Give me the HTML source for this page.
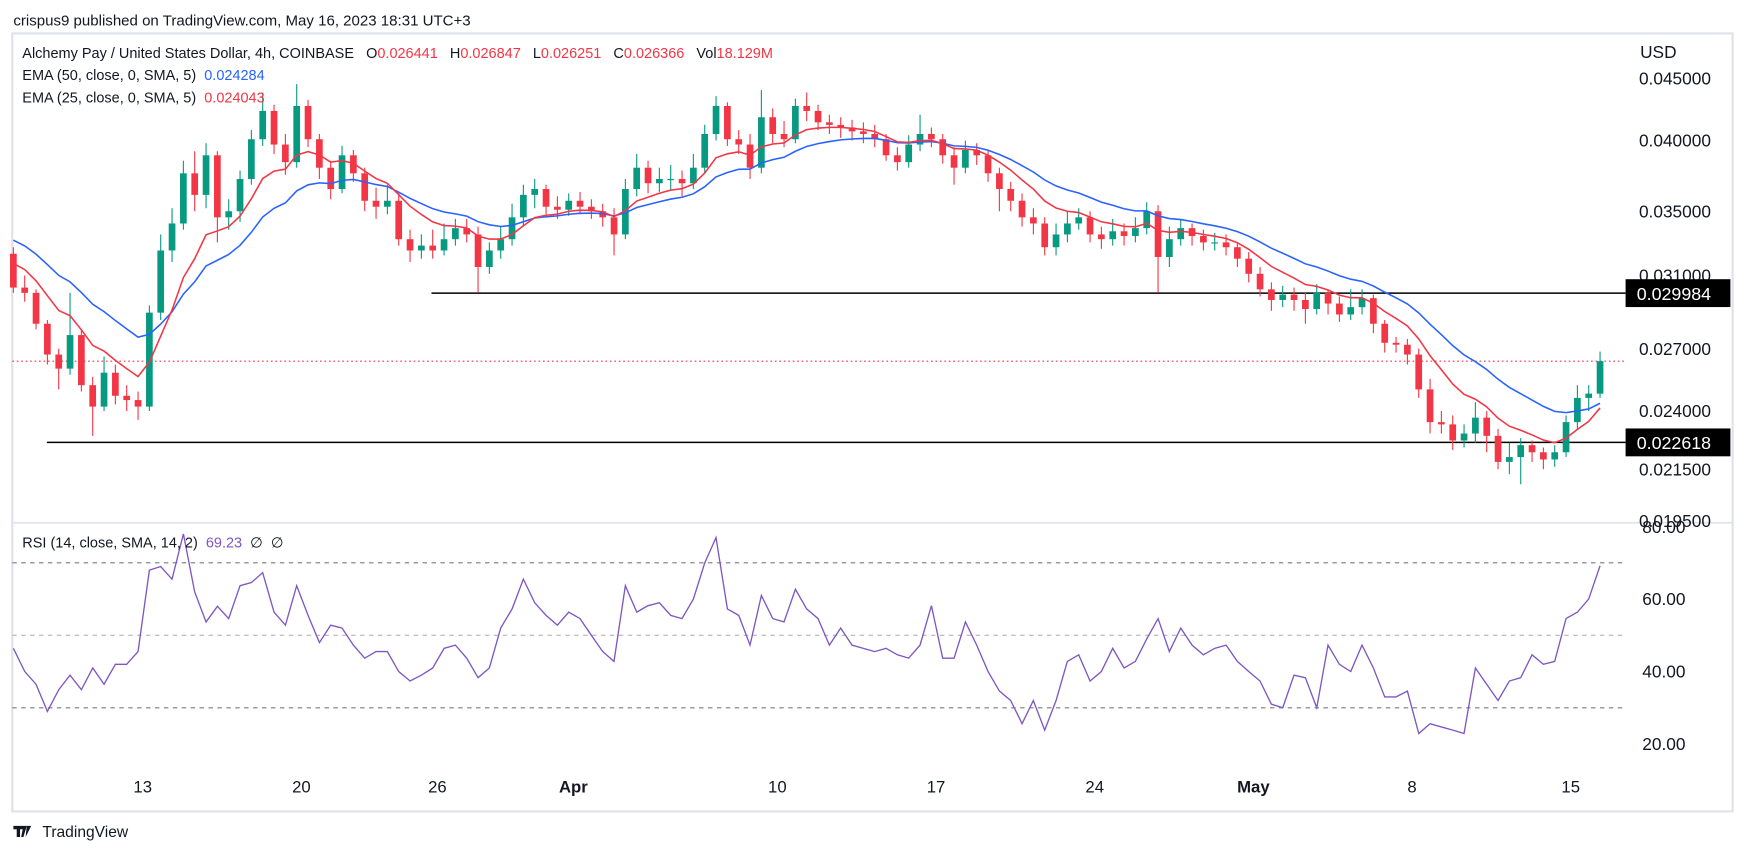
<!DOCTYPE html>
<html><head><meta charset="utf-8">
<style>
html,body{margin:0;padding:0;background:#fff;}
svg{display:block;}
text{font-family:"Liberation Sans",sans-serif;white-space:pre;}
</style></head>
<body>
<svg id="chart" width="1746" height="856" viewBox="0 0 1566 768" preserveAspectRatio="none" xmlns="http://www.w3.org/2000/svg">
  <rect x="0" y="0" width="1566" height="768" fill="#fff"/>
  <text x="12" y="23" font-size="13.5" fill="#131722">crispus9 published on TradingView.com, May 16, 2023 18:31 UTC+3</text>
  <rect x="11" y="30" width="1543" height="698" fill="none" stroke="#e0e3eb" stroke-width="2"/>
  <line x1="11" y1="469" x2="1554" y2="469" stroke="#e0e3eb" stroke-width="1.5"/>
  <g id="grid"></g>
  <g id="levels"></g>
  <g id="candles"></g>
  <g id="emas"></g>
  <g id="rsi"></g>
  <g id="axes"></g>
  <g font-size="13" fill="#131722">
    <text x="20" y="52" xml:space="preserve">Alchemy Pay / United States Dollar, 4h, COINBASE   O<tspan fill="#f23645">0.026441</tspan>   H<tspan fill="#f23645">0.026847</tspan>   L<tspan fill="#f23645">0.026251</tspan>   C<tspan fill="#f23645">0.026366</tspan>   Vol<tspan fill="#f23645">18.129M</tspan></text>
    <text x="20" y="72" xml:space="preserve">EMA (50, close, 0, SMA, 5)  <tspan fill="#2962ff">0.024284</tspan></text>
    <text x="20" y="92" xml:space="preserve">EMA (25, close, 0, SMA, 5)  <tspan fill="#f23645">0.024043</tspan></text>
    <text x="20" y="491" xml:space="preserve">RSI (14, close, SMA, 14, 2)  <tspan fill="#7e57c2">69.23</tspan>  ∅  ∅</text>
  </g>
  <text x="1471" y="52" font-size="15.5" fill="#131722">USD</text>
  <g>
    <path d="M12 741h9v3h-3v7h-3v-7h-3z M21 741h3l-3 10h-2z M24 741h4l-5 10z" fill="#131722"/>
    <text x="38" y="751" font-size="14" fill="#131722">TradingView</text>
  </g>
</svg>
<script>
const firstOpen = 0.0323;
const closes = [0.0303,0.0300,0.0283,0.0267,0.0260,0.0277,0.0252,0.0242,0.0258,0.0247,0.0245,0.0242,0.0289,0.0325,0.0342,0.0376,0.0361,0.0389,0.0346,0.0350,
0.0372,0.0401,0.0423,0.0397,0.0384,0.0427,0.0401,0.0380,0.0365,0.0389,0.0376,0.0357,0.0353,0.0357,0.0332,0.0325,0.0328,0.0325,0.0332,0.0339,
0.0335,0.0315,0.0325,0.0332,0.0346,0.0361,0.0365,0.0353,0.0351,0.0357,0.0353,0.0350,0.0346,0.0335,0.0365,0.0380,0.0369,0.0372,0.0372,0.0369,
0.0380,0.0405,0.0427,0.0401,0.0397,0.0380,0.0418,0.0405,0.0401,0.0427,0.0423,0.0414,0.0412,0.0410,0.0407,0.0405,0.0401,0.0389,0.0384,0.0397,
0.0405,0.0401,0.0389,0.0380,0.0393,0.0389,0.0376,0.0365,0.0357,0.0346,0.0342,0.0327,0.0335,0.0342,0.0346,0.0335,0.0332,0.0337,0.0334,0.0339,
0.0350,0.0321,0.0332,0.0339,0.0334,0.0330,0.0330,0.0327,0.0320,0.0311,0.0302,0.0296,0.0299,0.0296,0.0291,0.0300,0.0294,0.0288,0.0292,0.0297,
0.0283,0.0273,0.0272,0.0267,0.0250,0.0235,0.0234,0.0227,0.0230,0.0237,0.0229,0.0218,0.0220,0.0225,0.0222,0.0219,0.0222,0.0235,0.0246,0.0248,0.02637];
const highs = [0.0327,0.0310,0.0302,0.0285,0.0270,0.0300,0.0280,0.0256,0.0266,0.0262,0.0252,0.0249,0.0293,0.0335,0.0352,0.0385,0.0392,0.0398,0.0392,0.0358,
0.0378,0.0408,0.0438,0.0428,0.0405,0.0445,0.0432,0.0405,0.0385,0.0396,0.0393,0.0380,0.0366,0.0368,0.0362,0.0338,0.0335,0.0338,0.0342,0.0345,
0.0345,0.0340,0.0330,0.0340,0.0355,0.0368,0.0372,0.0368,0.0360,0.0362,0.0363,0.0358,0.0355,0.0352,0.0372,0.0390,0.0385,0.0380,0.0382,0.0378,
0.0390,0.0412,0.0435,0.0430,0.0408,0.0405,0.0440,0.0425,0.0415,0.0433,0.0438,0.0428,0.0420,0.0418,0.0416,0.0414,0.0412,0.0405,0.0395,0.0404,
0.0420,0.0410,0.0405,0.0395,0.0400,0.0398,0.0393,0.0380,0.0370,0.0362,0.0352,0.0346,0.0342,0.0350,0.0352,0.0350,0.0340,0.0345,0.0342,0.0346,
0.0356,0.0354,0.0340,0.0345,0.0342,0.0338,0.0336,0.0335,0.0330,0.0324,0.0315,0.0306,0.0304,0.0303,0.0300,0.0305,0.0302,0.0298,0.0302,0.0302,
0.0299,0.0285,0.0276,0.0275,0.0270,0.0255,0.0240,0.0238,0.0234,0.0244,0.0240,0.0232,0.0226,0.0228,0.0227,0.0224,0.0225,0.0238,0.0252,0.0252,0.02685];
const lows = [0.0300,0.0295,0.0280,0.0262,0.0250,0.0257,0.0249,0.0229,0.0240,0.0243,0.0240,0.0236,0.0240,0.0285,0.0318,0.0338,0.0350,0.0352,0.0330,0.0338,
0.0343,0.0368,0.0396,0.0390,0.0375,0.0380,0.0395,0.0372,0.0358,0.0362,0.0370,0.0350,0.0345,0.0348,0.0328,0.0318,0.0320,0.0320,0.0322,0.0328,
0.0330,0.0300,0.0311,0.0320,0.0328,0.0340,0.0352,0.0348,0.0345,0.0347,0.0348,0.0345,0.0340,0.0322,0.0332,0.0360,0.0362,0.0363,0.0364,0.0360,
0.0365,0.0376,0.0400,0.0396,0.0390,0.0372,0.0376,0.0398,0.0395,0.0398,0.0415,0.0408,0.0405,0.0402,0.0400,0.0398,0.0395,0.0385,0.0378,0.0380,
0.0392,0.0395,0.0383,0.0368,0.0376,0.0382,0.0370,0.0350,0.0350,0.0340,0.0335,0.0322,0.0322,0.0330,0.0338,0.0330,0.0326,0.0328,0.0328,0.0330,
0.0335,0.0300,0.0315,0.0328,0.0328,0.0325,0.0325,0.0322,0.0315,0.0306,0.0298,0.0290,0.0292,0.0290,0.0283,0.0288,0.0288,0.0284,0.0285,0.0288,
0.0278,0.0268,0.0268,0.0262,0.0246,0.0230,0.0230,0.0223,0.0224,0.0226,0.0222,0.0215,0.0213,0.0209,0.0218,0.0215,0.0216,0.0220,0.0232,0.0240,0.0246];
const rsiValues = [46.4,40,36.5,29,35,39,35,41,36.5,42,42,45.5,68,69,65.5,78,62,53.7,58,54.6,
63.7,64.6,67.3,56.4,52.8,63.7,55.5,48,52.8,52,47.3,43.7,45.5,45.5,40,37.4,39,41,46.4,47.3,
43.7,38.3,41,52,57.3,65.5,59,55.5,52.8,56.4,54.6,50,45.5,42.8,63.7,56.4,58.2,59,55.5,54.6,
60,70,77,57.3,55.5,47.3,61,54.6,53.7,62.7,57.3,54.6,47.3,52,47.3,46.4,45.5,46.4,44.6,43.7,
47.3,58.2,43.7,43.7,53.7,47.3,40,34.6,32,25.6,32,23.8,32,42.8,44.6,37.4,40,46.4,41,42.8,
49,54.6,45.5,52,47.3,44.6,46.4,47.3,42.8,40,37.4,31,30,39,38.3,30,47.3,42,40,47.3,
41,33,33,34.6,22.9,25.6,24.7,23.8,22.9,41,36.5,32,37.4,38.3,44.6,42,42.8,54.6,56.4,60,69.2];
const priceTicks = [0.045,0.040,0.035,0.031,0.027,0.024,0.0215,0.0195];
const rsiTicks = [80,60,40,20];
const rsiBands = [70,50,30];
const dateLabels = ["13","20","26","Apr","10","17","24","May","8","15"];
const dateDays = [0,7,13,19,28,35,42,49,56,63];
const resistanceLevel = 0.029984;
const supportLevel = 0.022618;
const lastPrice = 0.026366;
const ema50Seed = 0.0335, ema25Seed = 0.0321;

const NS = "http://www.w3.org/2000/svg";
const PLOT_L = 11, PLOT_R = 1458;
function yP(p){ return 263 + (Math.log(0.029984) - Math.log(p)) * 475; }
function yR(v){ return 472.5 + (80 - v) * 3.25; }
function xDay(d){ return 128 + d * 20.33; }
function xC(i){ return xDay(-5.706 + i * 0.5); }
function mk(tag, attrs, parent){ const e = document.createElementNS(NS, tag); for (const k in attrs) e.setAttribute(k, attrs[k]); parent.appendChild(e); return e; }

const gLevels = document.getElementById('levels');
const gC = document.getElementById('candles');
const gE = document.getElementById('emas');
const gR = document.getElementById('rsi');
const gA = document.getElementById('axes');

let el = mk('line', {x1:387, y1:yP(resistanceLevel), x2:PLOT_R, y2:yP(resistanceLevel), stroke:'#000', 'stroke-width':1.3}, gLevels);


el = mk('line', {x1:42, y1:yP(supportLevel), x2:PLOT_R, y2:yP(supportLevel), stroke:'#000', 'stroke-width':1.3}, gLevels);


el = mk('line', {x1:PLOT_L, y1:yP(lastPrice), x2:PLOT_R, y2:yP(lastPrice), stroke:'#f23645', 'stroke-width':1, 'stroke-dasharray':'1.5 2.5'}, gLevels);



for (let i = 0; i < closes.length; i++) {
  const o = i === 0 ? firstOpen : closes[i-1], c = closes[i];
  const up = c >= o, col = up ? '#089981' : '#f23645';
  const x = xC(i);
  const g = mk('g', {}, gC);
  
  
  mk('line', {x1:x, x2:x, y1:yP(highs[i]), y2:yP(lows[i]), stroke:col, 'stroke-width':1}, g);
  const yt = Math.min(yP(o), yP(c)), yb = Math.max(yP(o), yP(c));
  mk('rect', {x:x-3, y:yt, width:6, height:Math.max(1, yb-yt), fill:col}, g);
}

function emaPath(seed, alpha){
  let e = seed, d = '';
  for (let i = 0; i < closes.length; i++) { e = e + alpha * (closes[i] - e); d += (i ? 'L' : 'M') + xC(i).toFixed(1) + ' ' + yP(e).toFixed(1); }
  return d;
}
el = mk('path', {d:emaPath(ema50Seed, 2/(50/3+1)), fill:'none', stroke:'#2962ff', 'stroke-width':1.4}, gE);


el = mk('path', {d:emaPath(ema25Seed, 2/(25/3+1)), fill:'none', stroke:'#f23645', 'stroke-width':1.4}, gE);



rsiBands.forEach(v => {
  const l = mk('line', {x1:PLOT_L, x2:PLOT_R, y1:yR(v), y2:yR(v), stroke: v === 50 ? '#b2b5be' : '#787b86', 'stroke-width':1, 'stroke-dasharray':'4 4'}, gR);
  
  
});
let rd = '';
rsiValues.forEach((v, i) => { rd += (i ? 'L' : 'M') + xC(i).toFixed(1) + ' ' + yR(v).toFixed(1); });
el = mk('path', {d:rd, fill:'none', stroke:'#7e57c2', 'stroke-width':1.2}, gR);



priceTicks.forEach(p => {
  const t = mk('text', {x:1470, y:yP(p)+5.5, 'font-size':15.5, fill:'#131722'}, gA);
  t.textContent = p.toFixed(6);
  
  
});
[resistanceLevel, supportLevel].forEach(p => {
  const r = mk('rect', {x:PLOT_R, y:yP(p)-12.5, width:94, height:25, fill:'#000'}, gA);
  
  
  const t = mk('text', {x:1468, y:yP(p)+6, 'font-size':16, fill:'#fff'}, gA);
  t.textContent = p.toFixed(6);
  
  
});
rsiTicks.forEach(v => {
  const t = mk('text', {x:1473, y:yR(v)+5.5, 'font-size':15.5, fill:'#131722'}, gA);
  t.textContent = v.toFixed(2);
  
  
});
dateLabels.forEach((s, i) => {
  const t = mk('text', {x:xDay(dateDays[i]), y:711, 'font-size':15, fill:'#131722', 'text-anchor':'middle', 'font-weight': (s === 'Apr' || s === 'May') ? 'bold' : 'normal'}, gA);
  t.textContent = s;
  
  
});
</script>
</body></html>
